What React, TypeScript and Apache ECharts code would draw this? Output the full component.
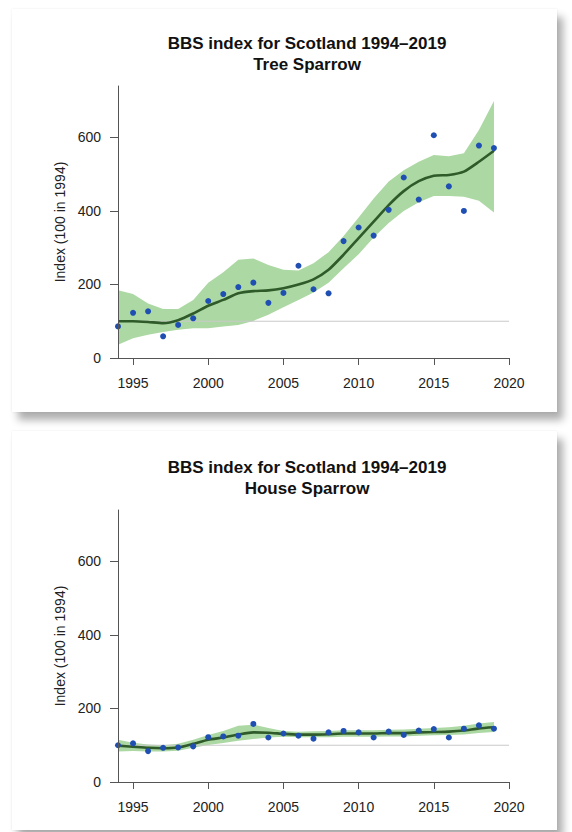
import React, { useEffect, useRef } from "react";
import * as echarts from "echarts";

// ---- data ----
const years = [1994, 1995, 1996, 1997, 1998, 1999, 2000, 2001, 2002, 2003, 2004, 2005, 2006, 2007, 2008, 2009, 2010, 2011, 2012, 2013, 2014, 2015, 2016, 2017, 2018, 2019];

const treeIndex = [86, 123, 127, 59, 90, 108, 155, 174, 193, 205, 150, 177, 251, 187, 176, 318, 355, 333, 403, 491, 431, 606, 467, 400, 578, 571];
const treeTrend = [100, 100, 98, 95, 103, 121, 142, 158, 176, 182, 184, 190, 200, 214, 240, 281, 326, 371, 416, 454, 481, 496, 498, 507, 534, 564];
const treeUpper = [184, 174, 148, 133, 133, 158, 205, 233, 267, 271, 253, 240, 238, 258, 288, 332, 382, 434, 480, 511, 534, 552, 549, 557, 620, 699];
const treeLower = [36, 54, 63, 71, 77, 81, 81, 86, 90, 101, 118, 138, 158, 178, 205, 244, 282, 328, 367, 400, 424, 441, 441, 439, 428, 396];

const houseIndex = [100, 105, 84, 93, 94, 97, 122, 124, 126, 158, 121, 132, 126, 118, 135, 139, 135, 121, 137, 128, 140, 144, 121, 145, 154, 145];
const houseTrend = [99, 96, 93, 92, 94, 104, 115, 121, 129, 135, 134, 131, 129, 129, 130, 132, 132, 132, 133, 133, 135, 136, 137, 140, 146, 149];
const houseUpper = [115, 107, 102, 100, 104, 115, 128, 139, 153, 156, 147, 139, 137, 138, 139, 141, 141, 141, 142, 143, 145, 147, 149, 153, 159, 163];
const houseLower = [83, 84, 83, 83, 85, 93, 101, 106, 112, 117, 121, 123, 122, 122, 122, 123, 123, 123, 124, 124, 126, 127, 128, 129, 133, 136];

const xTicks = [1995, 2000, 2005, 2010, 2015, 2020];
const yTicks = [0, 200, 400, 600];
const refLine = [[1994, 100], [2020, 100]];

const titleLine = "BBS index for Scotland 1994–2019";
const yName = "Index (100 in 1994)";

const FONT = "'Liberation Sans', Arial, sans-serif";

function buildOption(species: string, idx: number[], trend: number[], upper: number[], lower: number[], gridTop: number) {
  const bandRows = years.map((y, i) => [y, lower[i], upper[i]]);
  return {
    animation: false,
    title: {
      text: titleLine + "\n" + species,
      left: 295,
      top: gridTop - 53,
      textAlign: "center",
      padding: 0,
      textStyle: { fontFamily: FONT, fontSize: 17, fontWeight: "bold", color: "#111", lineHeight: 21 },
    },
    grid: { left: 106, top: gridTop, width: 391, height: 272 },
    xAxis: {
      type: "value",
      min: 1994,
      max: 2020,
      z: 10,
      axisLine: { show: true, lineStyle: { color: "#555", width: 1 } },
      axisTick: { show: true, length: 7, lineStyle: { color: "#555" }, customValues: xTicks },
      axisLabel: { customValues: xTicks, margin: 18, fontFamily: FONT, fontSize: 14, color: "#222", formatter: (v: number) => String(v) },
      splitLine: { show: false },
    },
    yAxis: {
      type: "value",
      min: 0,
      max: 740,
      z: 10,
      name: yName,
      nameLocation: "middle",
      nameGap: 50,
      nameRotate: 90,
      nameTextStyle: { fontFamily: FONT, fontSize: 14, color: "#222" },
      axisLine: { show: true, lineStyle: { color: "#555", width: 1 } },
      axisTick: { show: true, length: 8, lineStyle: { color: "#555" }, customValues: yTicks },
      axisLabel: { customValues: yTicks, margin: 17, fontFamily: FONT, fontSize: 14, color: "#222", formatter: (v: number) => String(v) },
      splitLine: { show: false },
    },
    series: [
      {
        type: "custom",
        data: bandRows,
        encode: { x: 0, y: [1, 2] },
        z: 1,
        renderItem: (params: any, api: any) => {
          if (params.dataIndex !== 0) return null;
          const top = bandRows.map((r) => api.coord([r[0], r[2]]));
          const bottom = bandRows.map((r) => api.coord([r[0], r[1]])).reverse();
          return {
            type: "polygon",
            shape: { points: top.concat(bottom) },
            style: { fill: "#acd8a3", stroke: "none" },
          };
        },
      },
      {
        type: "line",
        data: refLine,
        symbol: "none",
        lineStyle: { color: "#c9c9c9", width: 1 },
        z: 3,
      },
      {
        type: "line",
        data: years.map((y, i) => [y, trend[i]]),
        smooth: 0.2,
        symbol: "none",
        lineStyle: { color: "#2f5a29", width: 2.6 },
        z: 4,
      },
      {
        type: "scatter",
        data: years.map((y, i) => [y, idx[i]]),
        symbolSize: 6,
        itemStyle: { color: "#1f4fb3", opacity: 1 },
        z: 5,
      },
    ],
  };
}

function Card(props: { top: number; height: number; species: string; idx: number[]; trend: number[]; upper: number[]; lower: number[]; gridTop: number }) {
  const ref = useRef<HTMLDivElement>(null);
  useEffect(() => {
    if (!ref.current) return;
    const chart = echarts.init(ref.current, null, { renderer: "svg" });
    chart.setOption(buildOption(props.species, props.idx, props.trend, props.upper, props.lower, props.gridTop));
    return () => chart.dispose();
  }, []);
  return (
    <div
      style={{
        position: "absolute",
        left: 12,
        top: props.top,
        width: 545,
        height: props.height,
        background: "#fff",
        boxShadow: "6px 8px 8px rgba(0,0,0,0.32), 0 0 2px rgba(0,0,0,0.08)",
      }}
    >
      <div ref={ref} style={{ width: 545, height: props.height }} />
    </div>
  );
}

export default function App() {
  return (
    <div style={{ position: "absolute", left: 0, top: 0, width: 572, height: 832, background: "#fff", overflow: "hidden" }}>
      <Card top={9} height={403} species="Tree Sparrow" idx={treeIndex} trend={treeTrend} upper={treeUpper} lower={treeLower} gridTop={77} />
      <Card top={431} height={399} species="House Sparrow" idx={houseIndex} trend={houseTrend} upper={houseUpper} lower={houseLower} gridTop={79} />
    </div>
  );
}
